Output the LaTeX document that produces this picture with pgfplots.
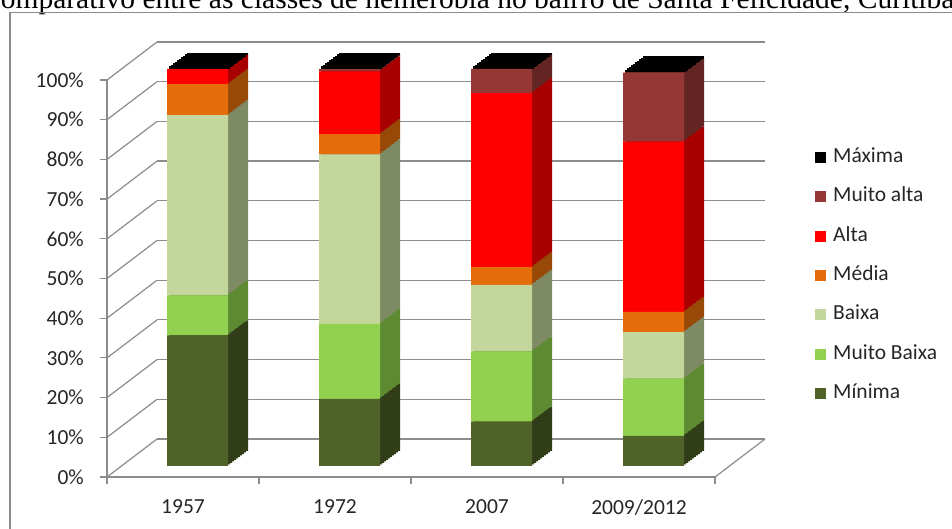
\documentclass[border=0pt]{standalone}
\usepackage{pgfplots}
\pgfplotsset{compat=1.18}
\usepackage{pgfplotstable}
\usepackage{fontspec}
\setmainfont{Carlito}
\newfontfamily\titlefont{Liberation Serif}

\definecolor{cMin}{HTML}{4F6228}
\definecolor{cMinS}{HTML}{313D18}
\definecolor{cMB}{HTML}{92D050}
\definecolor{cMBS}{HTML}{5E8A32}
\definecolor{cBai}{HTML}{C3D69B}
\definecolor{cBaiS}{HTML}{7E8A64}
\definecolor{cMed}{HTML}{E46C0A}
\definecolor{cMedS}{HTML}{984807}
\definecolor{cAlt}{HTML}{FF0000}
\definecolor{cAltS}{HTML}{A80000}
\definecolor{cMA}{HTML}{953735}
\definecolor{cMAS}{HTML}{632523}
\definecolor{gridc}{HTML}{8C8C8C}
\definecolor{textc}{HTML}{262626}

\pgfplotstableread{
x Minima MuitoBaixa Baixa Media Alta MuitoAlta Maxima
0 32.9 10.1 45.4 7.8 3.8 0.0 0
1 16.9 18.9 42.7 5.1 15.8 0.6 0
2 11.2 17.7 16.7 4.5 43.8 6.1 0
3 7.6 14.4 11.7 5.1 42.9 17.4 0
}\datatable

\pgfplotsset{
  plane/.style={scale only axis, width=608pt, height=397pt,
    xmin=-0.5, xmax=3.5, ymin=0, ymax=100, anchor=south west, clip=false},
}
\newcommand\lfont{\fontsize{21.5}{24}\selectfont}

\begin{document}
\begin{tikzpicture}
\useasboundingbox (0,0) rectangle (952pt,529pt);
\clip (0,0) rectangle (952pt,529pt);
\fill[white] (0,0) rectangle (952pt,529pt);
% title (cropped at top)
\node[anchor=base west, inner sep=0pt, font=\titlefont\fontsize{29.5}{30}\selectfont] at (-19pt,520pt)
  {Comparativo entre as classes de hemerobia no bairro de Santa Felicidade, Curitiba};
% chart frame
\draw[gridc, line width=1.5pt] (10pt,-10pt) -- (10pt,516.5pt) -- (970pt,516.5pt);

% back wall gridlines
\begin{axis}[plane, at={(157pt,90pt)},
  axis line style={draw=none}, xtick=\empty, ytick={0,10,...,100}, yticklabels={},
  major tick length=0pt, ymajorgrids, grid style={gridc, line width=1.2pt}]
\end{axis}
% side wall diagonals and floor
\foreach \k in {0,...,10}{
  \draw[gridc, line width=1.2pt] (107pt,{52pt+39.7pt*\k}) -- ++(50pt,38pt);
}
\draw[gridc, line width=1.2pt] (715pt,52pt) -- ++(50pt,38pt);

% front axes (left value axis, bottom category axis)
\begin{axis}[plane, at={(107pt,52pt)},
  axis x line*=bottom, axis y line*=left,
  axis line style={gridc, line width=1.3pt, -},
  tick style={gridc, line width=1.2pt}, tick align=outside, major tick length=7pt,
  ytick={0,10,...,100},
  yticklabels={0\%,10\%,20\%,30\%,40\%,50\%,60\%,70\%,80\%,90\%,100\%},
  yticklabel style={font=\lfont, text=textc, inner sep=0pt, anchor=east, xshift=-16pt},
  xtick={-0.5,0.5,1.5,2.5,3.5}, xticklabels={},
  extra x ticks={0,1,2,3},
  extra x tick labels={1957,1972,2007,2009/2012},
  extra x tick style={major tick length=0pt,
     xticklabel style={font=\lfont, text=textc, inner sep=0pt, anchor=north, yshift=-22pt}},
  ]
\end{axis}

% bar side faces and top caps (swept copies)
\foreach \k in {10,9,...,1}{
\begin{axis}[plane, hide axis, ybar stacked, bar width=61pt,
   at={({121.5pt+2pt*\k},{63pt+1.5pt*\k})}]
 \addplot[fill=cMinS, draw=none] table[x=x,y=Minima]{\datatable};
 \addplot[fill=cMBS, draw=none] table[x=x,y=MuitoBaixa]{\datatable};
 \addplot[fill=cBaiS, draw=none] table[x=x,y=Baixa]{\datatable};
 \addplot[fill=cMedS, draw=none] table[x=x,y=Media]{\datatable};
 \addplot[fill=cAltS, draw=none] table[x=x,y=Alta]{\datatable};
 \addplot[fill=cMAS, draw=none] table[x=x,y=MuitoAlta]{\datatable};
\end{axis}
\begin{axis}[plane, hide axis, stack plots=y,
   at={({121.5pt+2pt*\k},{63pt+1.5pt*\k})}]
 \addplot[draw=none, mark=none] table[x=x,y=Minima]{\datatable};
 \addplot[draw=none, mark=none] table[x=x,y=MuitoBaixa]{\datatable};
 \addplot[draw=none, mark=none] table[x=x,y=Baixa]{\datatable};
 \addplot[draw=none, mark=none] table[x=x,y=Media]{\datatable};
 \addplot[draw=none, mark=none] table[x=x,y=Alta]{\datatable};
 \addplot[draw=none, mark=none] table[x=x,y=MuitoAlta]{\datatable};
 \addplot[only marks, mark=-, mark size=30.5pt,
    mark options={draw=black, line width=2.8pt, line cap=butt}] table[x=x,y=Maxima]{\datatable};
\end{axis}
}

% front faces of the bars + legend
\begin{axis}[plane, hide axis, ybar stacked, bar width=61pt, at={(121.5pt,63pt)},
  reverse legend,
  legend image code/.code={\fill[#1] (0pt,-5.5pt) rectangle (11pt,5.5pt);},
  legend cell align=left,
  legend style={at={(axis description cs:1.1406,0.8035)}, anchor=north west,
    draw=none, fill=none, inner sep=0pt, row sep=19.4pt, column sep=7pt,
    font=\lfont, text=textc,
    nodes={inner sep=0pt, text height=15pt, text depth=5pt}},
  ]
 \addplot[fill=cMin, draw=none] table[x=x,y=Minima]{\datatable};
 \addlegendentry{Mínima}
 \addplot[fill=cMB, draw=none] table[x=x,y=MuitoBaixa]{\datatable};
 \addlegendentry{Muito Baixa}
 \addplot[fill=cBai, draw=none] table[x=x,y=Baixa]{\datatable};
 \addlegendentry{Baixa}
 \addplot[fill=cMed, draw=none] table[x=x,y=Media]{\datatable};
 \addlegendentry{Média}
 \addplot[fill=cAlt, draw=none] table[x=x,y=Alta]{\datatable};
 \addlegendentry{Alta}
 \addplot[fill=cMA, draw=none] table[x=x,y=MuitoAlta]{\datatable};
 \addlegendentry{Muito alta}
 \addplot[fill=black, draw=none] table[x=x,y=Maxima]{\datatable};
 \addlegendentry{Máxima}
\end{axis}
\end{tikzpicture}
\end{document}
